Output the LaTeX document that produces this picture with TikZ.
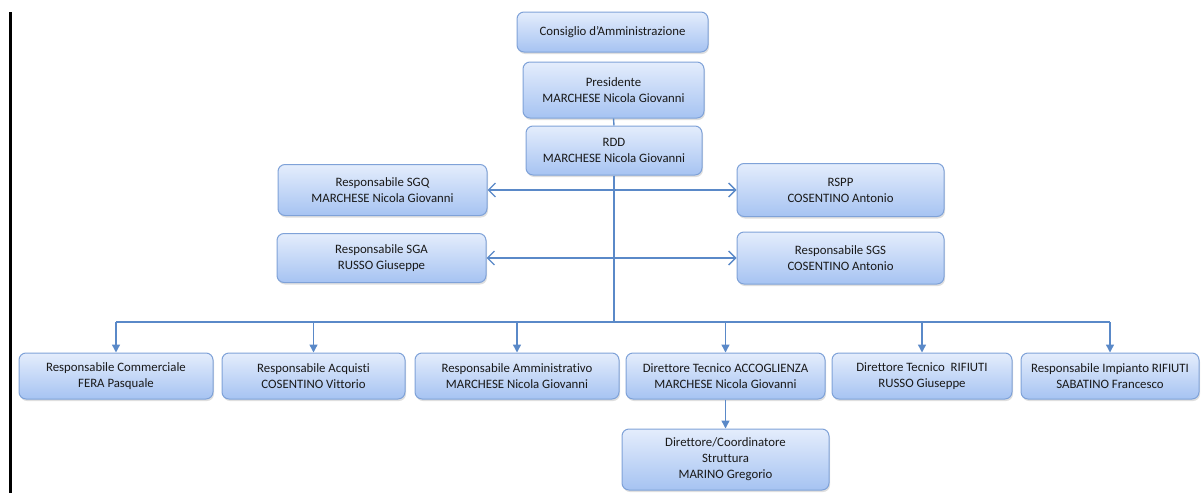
\documentclass[tikz,border=0pt]{standalone}
\usepackage{fontspec}
\setmainfont{Carlito}[Ligatures={NoCommon}]
\usetikzlibrary{arrows.meta,shadows}
\definecolor{boxtop}{HTML}{E4EDFC}
\definecolor{boxbot}{HTML}{A6C3F2}
\definecolor{boxline}{HTML}{7FA2D8}
\definecolor{linkblue}{HTML}{5A89C8}
\tikzset{
	orgbox/.style={draw=boxline, line width=1pt, rounded corners=7pt, top color=boxtop, bottom color=boxbot,
		drop shadow={shadow xshift=1pt, shadow yshift=-2pt, opacity=.25},
		align=center, inner sep=1pt, font=\fontsize{12.8}{16}\selectfont, text=black!90},
	sz/.style 2 args={minimum width=#1pt, minimum height=#2pt},
	link/.style={draw=linkblue, line width=1.4pt},
	down/.style={link, -{Triangle[width=8pt,length=8pt]}},
	both/.style={link, {Straight Barb[width=14pt,length=7pt]}-{Straight Barb[width=14pt,length=7pt]}}
}
\begin{document}
\begin{tikzpicture}[x=1pt, y=-1pt]
	%\draw [step=50,lightgray, very thin] (0,0) grid (1203,493);
	\useasboundingbox (0,0) rectangle (1203,493);
	\draw[line width=3pt, black] (10,12) -- (10,493);
	% top
	\node[orgbox, sz={191}{40}] (cda) at (612.5,32) {Consiglio d’Amministrazione};
	\node[orgbox, sz={181}{56}] (pres) at (613.5,90) {Presidente\\MARCHESE Nicola Giovanni};
	\node[orgbox, sz={176}{49}] (rdd) at (614,150.5) {RDD\\MARCHESE Nicola Giovanni};
	% staff
	\node[orgbox, sz={209}{51}] (sgq) at (382.5,190) {Responsabile SGQ\\MARCHESE Nicola Giovanni};
	\node[orgbox, sz={209}{49}] (sga) at (381.5,258) {Responsabile SGA\\RUSSO Giuseppe};
	\node[orgbox, sz={207}{53}] (rspp) at (840.5,190) {RSPP\\COSENTINO Antonio};
	\node[orgbox, sz={207}{52}] (sgs) at (840.5,258) {Responsabile SGS\\COSENTINO Antonio};
	% line
	\node[orgbox, sz={194}{46}] (comm) at (116,376) {Responsabile Commerciale\\FERA Pasquale};
	\node[orgbox, sz={183}{46}] (acq) at (313.5,376) {Responsabile Acquisti\\COSENTINO Vittorio};
	\node[orgbox, sz={204}{46}] (amm) at (517,376) {Responsabile Amministrativo\\MARCHESE Nicola Giovanni};
	\node[orgbox, sz={199}{46}] (acc) at (725.5,376) {Direttore Tecnico ACCOGLIENZA\\MARCHESE Nicola Giovanni};
	\node[orgbox, sz={180}{46}] (tec) at (922,376) {Direttore Tecnico\ \ RIFIUTI\\RUSSO Giuseppe};
	\node[orgbox, sz={178}{46}] (imp) at (1110,376) {Responsabile Impianto RIFIUTI\\SABATINO Francesco};
	\node[orgbox, sz={207}{61}] (coord) at (725.5,459.5) {Direttore/Coordinatore\\Struttura\\MARINO Gregorio};
	
	\coordinate (bus) at (613,322);
	\draw[link] (pres.south) -- (rdd.north);
	\draw[link] (rdd.south) -- (rdd.south |- bus);
	\draw[both] (sgq.east) -- (rspp.west);
	\draw[both] (sga.east) -- (sgs.west);
	\draw[link] (comm.north |- bus) -- (imp.north |- bus);
	\foreach \b in {comm,acq,amm,acc,tec,imp}
		\draw[down] (\b.north |- bus) -- (\b.north);
	\draw[down] (acc.south) -- (coord.north);
\end{tikzpicture}
\end{document}
